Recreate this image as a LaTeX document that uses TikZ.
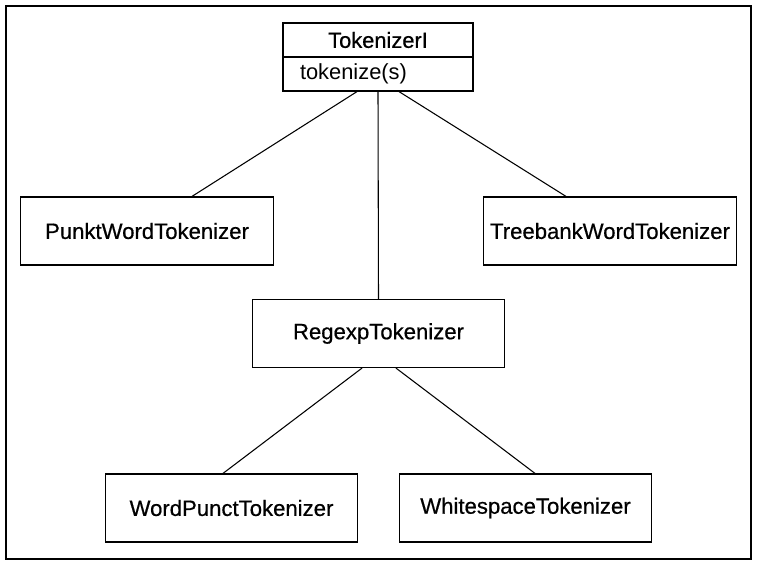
\documentclass[tikz,border=0pt]{standalone}
\usepackage{fontspec}
\setmainfont{Liberation Sans}
\newfontfamily\clsfont[FakeBold=0.6]{Liberation Sans}
\begin{document}
\begin{tikzpicture}[x=0.75pt,y=-0.75pt,
  cls/.style={draw,line width=0.9pt,rectangle,minimum width=189.5pt,minimum height=51pt,inner sep=0pt,font=\clsfont\fontsize{16.6}{19}\selectfont},
  part/.style={draw,line width=0.9pt,rectangle,minimum width=142.5pt,minimum height=25.5pt,inner sep=0pt,font=\fontsize{16.4}{19}\selectfont},
  conn/.style={line width=0.8pt}]
\useasboundingbox (0,0) rectangle (758,567);
\draw[line width=1.3pt] (6,6) rectangle (751,559);
\node[part,font=\clsfont\fontsize{16.4}{19}\selectfont] (tok) at (378,40) {TokenizerI};
\node[part,text width=117pt,align=left,inner xsep=12.75pt] (ops) at (378,74) {tokenize(s)};
\node[cls] (punkt) at (147,231) {PunktWordTokenizer};
\node[cls] (tree) at (610,231) {TreebankWordTokenizer};
\node[cls] (regexp) at (378.5,333.5) {RegexpTokenizer};
\node[cls] (wordp) at (231.5,508) {WordPunctTokenizer};
\node[cls] (white) at (525.5,508) {WhitespaceTokenizer};
\draw[conn] ([xshift=-15.75pt]ops.south) -- ([xshift=33.75pt]punkt.north);
\draw[conn] ([xshift=15.75pt]ops.south) -- ([xshift=-33pt]tree.north);
\draw[conn] (ops.south) -- (regexp.north);
\draw[conn] ([xshift=-12.375pt]regexp.south) -- ([xshift=-6.375pt]wordp.north);
\draw[conn] ([xshift=13.125pt]regexp.south) -- ([xshift=7.125pt]white.north);
\end{tikzpicture}
\end{document}
